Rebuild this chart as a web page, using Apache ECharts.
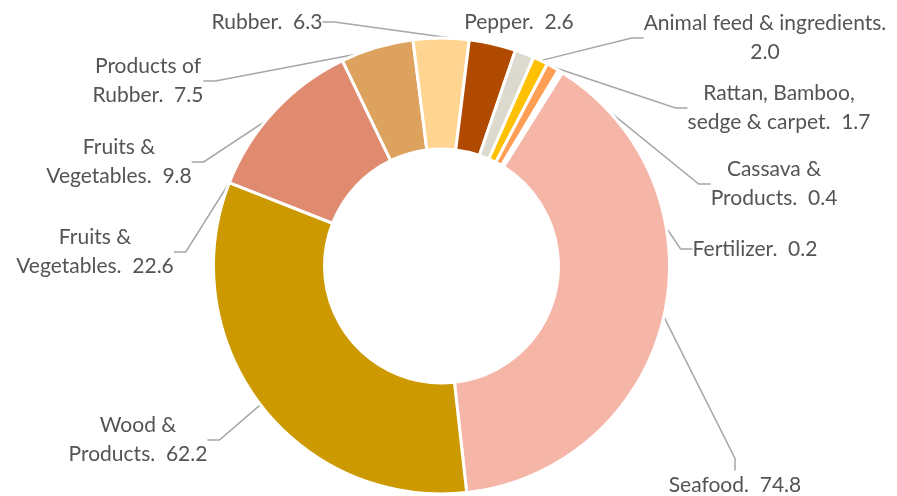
<!DOCTYPE html>
<html>
<head>
<meta charset="utf-8">
<script src="https://cdn.jsdelivr.net/npm/echarts@6/dist/echarts.min.js"></script>
<style>
  html, body { margin: 0; padding: 0; background: #fff; }
  #main { width: 897px; height: 496px; }
</style>
</head>
<body>
<div id="main"></div>
<script>
// data (clockwise from the first slice)
var categories = ['Seafood', 'Wood &\nProducts', 'Fruits &\nVegetables', 'Fruits &\nVegetables',
    'Products of\nRubber', 'Rubber', 'Pepper', 'Animal feed & ingredients',
    'Rattan, Bamboo,\nsedge & carpet', 'Cassava &\nProducts', 'Fertilizer'];
var values = [74.8, 62.2, 22.6, 9.8, 7.5, 6.3, 2.6, 2.0, 1.7, 0.4, 0.2];
var colors = ['#F5B6A7', '#CC9900', '#E08A70', '#DCA25E', '#FFD591', '#B04A00',
    '#DCD9CE', '#FFC000', '#FF9F55', '#F4B183', '#C9A15A'];

// where each label block sits (centre), as placed in the original
var labelPos = [[735, 485], [138, 440], [95, 252], [119, 162], [148, 81], [267, 22],
    [519, 22], [765, 38], [779, 108], [774, 184], [755, 249]];

var dom = document.getElementById('main');
var myChart = echarts.init(dom);

var seriesData = categories.map(function (name, i) {
    return {
        name: name,
        value: values[i],
        itemStyle: { color: colors[i] },
        labelLine: { show: i !== 6 }
    };
});

var option = {
    backgroundColor: '#fff',
    animation: false,
    series: [
        {
            type: 'pie',
            center: [441.5, 266],
            radius: [117, 228],
            startAngle: 58,
            clockwise: true,
            avoidLabelOverlap: false,
            itemStyle: {
                borderColor: '#fff',
                borderWidth: 3
            },
            label: {
                show: true,
                fontFamily: 'Lato',
                fontSize: 21,
                lineHeight: 29,
                color: '#545454',
                align: 'center',
                formatter: function (p) {
                    var sep = p.dataIndex === 7 ? '.\n' : '.  ';
                    return p.name + sep + p.value.toFixed(1);
                }
            },
            labelLine: {
                show: true,
                length: 10,
                length2: 12,
                lineStyle: { color: '#A6A6A6', width: 1.5 }
            },
            labelLayout: function (params) {
                var pos = labelPos[params.dataIndex];
                return {
                    x: pos[0],
                    y: pos[1],
                    align: 'center',
                    verticalAlign: 'middle'
                };
            },
            data: seriesData
        }
    ]
};

if (option && typeof option === 'object') {
    myChart.setOption(option, true);
}
</script>
</body>
</html>
